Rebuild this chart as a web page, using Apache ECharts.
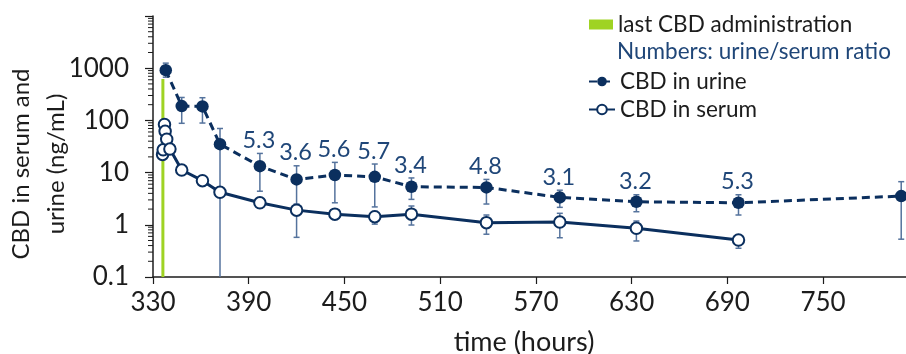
<!DOCTYPE html>
<html>
<head>
<meta charset="utf-8">
<script src="https://cdn.jsdelivr.net/npm/echarts@6/dist/echarts.min.js"></script>
<style>
  html, body { margin: 0; padding: 0; background: #fff; }
  #chart { width: 906px; height: 354px; }
</style>
</head>
<body>
<div id="chart"></div>
<script>
// data (hours, ng/mL)
var doseHour = 336.2;
var doseTop = 620;

var urineHours = [338, 348, 361, 372, 397, 420, 444, 469, 492, 539, 585, 633, 697, 799];
var urineMean  = [916, 188, 185, 35, 13.3, 7.4, 9.0, 8.3, 5.35, 5.2, 3.35, 2.76, 2.64, 3.55];
var urineLow   = [673, 88, 89, 0.1, 4.4, 2.5, 2.64, 2.2, 3.07, 2.5, 2.16, 1.78, 1.54, 0.53];
var urineHigh  = [1250, 275, 272, 70, 23.3, 13.5, 15.7, 14.6, 7.9, 7.4, 4.6, 3.76, 3.76, 6.7];
var ratios     = [null, null, null, null, '5.3', '3.6', '5.6', '5.7', '3.4', '4.8', '3.1', '3.2', '5.3', null];

var serumHours = [336.0, 336.4, 337.2, 337.6, 338.6, 340.6, 348, 361, 372, 397, 420, 444, 469, 492, 539, 585, 633, 697];
var serumMean  = [22.3, 27.3, 83.6, 62, 43.7, 28.2, 11.2, 7.0, 4.2, 2.64, 1.91, 1.6, 1.43, 1.6, 1.1, 1.13, 0.855, 0.51];
var serumLow   = [null, null, null, null, null, null, null, null, null, null, 0.575, null, 1.03, 0.99, 0.66, 0.565, 0.49, 0.355];
var serumHigh  = [null, null, null, null, null, null, null, null, null, null, 2.3, null, 1.8, 2.29, 1.54, 1.66, 1.18, 0.6];

var xTicks = [330, 390, 450, 510, 570, 630, 690, 750];
var yMin = 0.1, yMax = 10000;

var navy = '#0b2f5e';
var errColor = '#55739d';
var ratioColor = '#1f4678';
var green = '#9fd323';
var ink = '#1c1c1c';
var font = 'Lato';

// minor ticks of the log axis: 2..9 in every decade
var minorTicks = [];
for (var k = -1; k < 4; k++) {
  for (var m = 2; m <= 9; m++) minorTicks.push([+(m * Math.pow(10, k)).toPrecision(3)]);
}

function pairs(xs, ys) {
  return xs.map(function (x, i) { return [x, ys[i]]; });
}

var urineErr = urineHours.map(function (x, i) {
  return [x, urineLow[i], urineHigh[i], ratios[i] || ''];
});
var serumErr = [];
serumHours.forEach(function (x, i) {
  if (serumLow[i] != null) serumErr.push([x, serumLow[i], serumHigh[i], '']);
});

function renderErr(params, api) {
  var x = api.value(0), lo = api.value(1), hi = api.value(2);
  var txt = api.value(3);
  var top = api.coord([x, hi]);
  var bot = api.coord([x, Math.max(lo, yMin)]);
  var cw = 3;
  var st = { stroke: errColor, lineWidth: 1.5 };
  var kids = [
    { type: 'line', shape: { x1: top[0], y1: top[1], x2: bot[0], y2: bot[1] }, style: st },
    { type: 'line', shape: { x1: top[0] - cw, y1: top[1], x2: top[0] + cw, y2: top[1] }, style: st }
  ];
  if (lo > yMin) {
    kids.push({ type: 'line', shape: { x1: bot[0] - cw, y1: bot[1], x2: bot[0] + cw, y2: bot[1] }, style: st });
  }
  if (txt) {
    kids.push({ type: 'text', x: top[0] - 1, y: top[1] - 13,
      style: { text: txt, fill: ratioColor, font: '23.5px ' + font, align: 'center', verticalAlign: 'middle' } });
  }
  return { type: 'group', children: kids };
}

function renderDose(params, api) {
  var a = api.coord([api.value(0), yMin]);
  var b = api.coord([api.value(0), api.value(1)]);
  return { type: 'rect', shape: { x: a[0] - 1.5, y: b[1], width: 3, height: a[1] - b[1] },
    style: { fill: green } };
}

function renderMinor(params, api) {
  var p = api.coord([330, api.value(0)]);
  return { type: 'line', shape: { x1: p[0] - 5, y1: p[1], x2: p[0], y2: p[1] },
    style: { stroke: ink, lineWidth: 1 } };
}

var chart = echarts.init(document.getElementById('chart'));
chart.setOption({
  animation: false,
  textStyle: { fontFamily: font },
  grid: { left: 153, right: 0, top: 16, bottom: 77 },
  legend: [
    { data: [{ name: 'last CBD administration', icon: 'rect' }],
      left: 589, top: 13, padding: 0, itemWidth: 24, itemHeight: 10,
      textStyle: { fontSize: 22.5, color: ink, fontFamily: font }, selectedMode: false },
    { data: ['CBD in urine', 'CBD in serum'],
      orient: 'vertical', left: 588, top: 70, padding: 0, itemGap: 5, itemWidth: 26, itemHeight: 12,
      textStyle: { fontSize: 22.5, color: ink, fontFamily: font }, selectedMode: false }
  ],
  graphic: [
    { type: 'text', left: 617, top: 40,
      style: { text: 'Numbers: urine/serum ratio', fill: ratioColor, font: '22.5px ' + font } },
    { type: 'text', x: 524, y: 342,
      style: { text: 'time (hours)', fill: ink, font: '27px ' + font, align: 'center', verticalAlign: 'middle' } },
    { type: 'text', x: 39, y: 164, rotation: Math.PI / 2,
      style: { text: 'CBD in serum and\nurine (ng/mL)', fill: ink, font: '24px ' + font,
        align: 'center', verticalAlign: 'middle', lineHeight: 35 } }
  ],
  xAxis: {
    type: 'value', min: 330, max: 802, interval: 60,
    splitLine: { show: false },
    axisLine: { lineStyle: { color: ink, width: 1.5 } },
    axisTick: { length: 7, lineStyle: { color: ink, width: 1.2 }, customValues: xTicks },
    axisLabel: { fontSize: 26, color: ink, margin: 13, customValues: xTicks }
  },
  yAxis: {
    type: 'log', logBase: 10, min: yMin, max: yMax,
    splitLine: { show: false },
    axisLine: { show: true, lineStyle: { color: ink, width: 1.5 } },
    axisTick: { show: true, length: 8, lineStyle: { color: ink, width: 1.2 } },
    axisLabel: { fontSize: 26, color: ink, margin: 24,
      formatter: function (v) {
        if (v >= yMax) return '';
        return v < 1 ? String(+v.toFixed(1)) : String(Math.round(v));
      } }
  },
  series: [
    { name: 'minor ticks', type: 'custom', renderItem: renderMinor, data: minorTicks,
      clip: false, silent: true, z: 1 },
    { name: 'last CBD administration', type: 'custom', renderItem: renderDose,
      itemStyle: { color: green }, data: [[doseHour, doseTop]], z: 1 },
    { name: 'urine error', type: 'custom', renderItem: renderErr, data: urineErr, z: 2, silent: true },
    { name: 'serum error', type: 'custom', renderItem: renderErr, data: serumErr, z: 2, silent: true },
    { name: 'CBD in urine', type: 'line', data: pairs(urineHours, urineMean),
      symbol: 'circle', symbolSize: 12.5, showAllSymbol: true,
      lineStyle: { color: navy, width: 3, type: [8, 5] },
      itemStyle: { color: navy, borderWidth: 0 }, z: 3 },
    { name: 'CBD in serum', type: 'line', data: pairs(serumHours, serumMean),
      symbol: 'circle', symbolSize: 11.5, showAllSymbol: true,
      lineStyle: { color: navy, width: 3 },
      itemStyle: { color: '#fff', borderColor: navy, borderWidth: 2 }, z: 4 }
  ]
});
</script>
</body>
</html>
